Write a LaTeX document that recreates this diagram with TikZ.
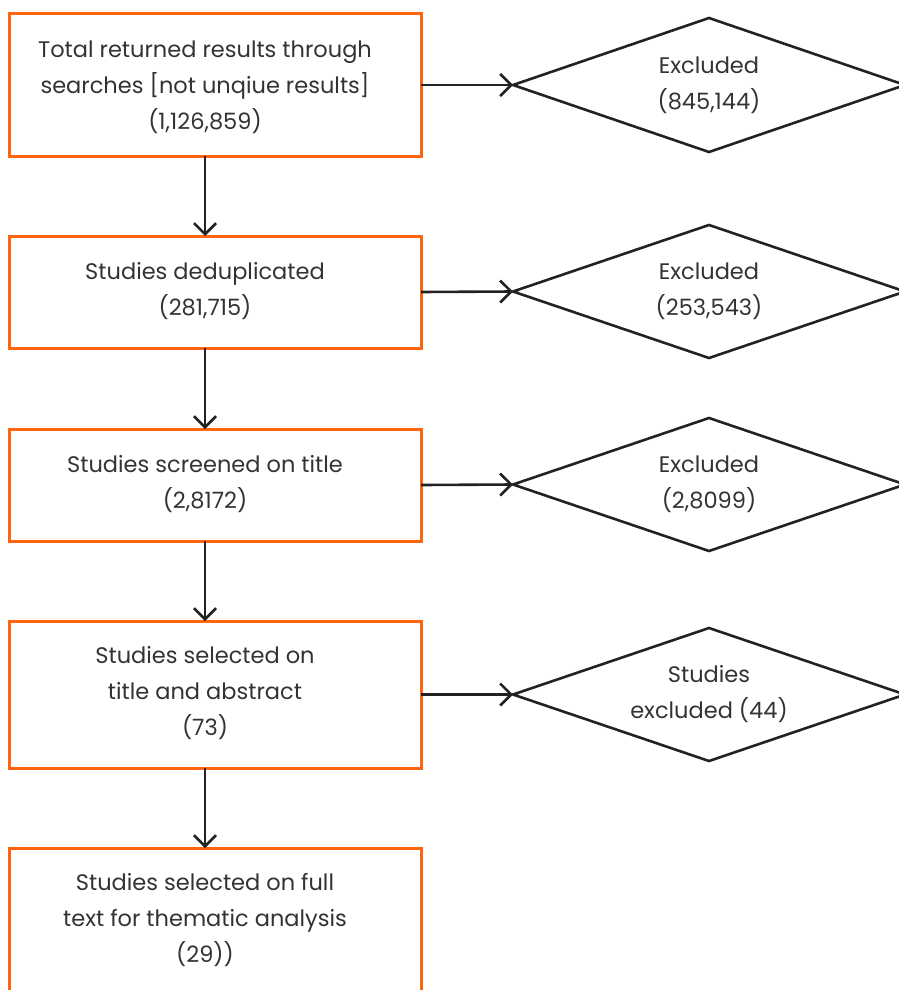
\documentclass[tikz,border=0pt]{standalone}
\usepackage{fontspec}
\setmainfont{Poppins}
\usetikzlibrary{shapes.geometric,arrows.meta}
\definecolor{boxorange}{HTML}{FF6410}
\definecolor{linedark}{HTML}{222222}
\definecolor{textdark}{HTML}{333333}
\begin{document}
\begin{tikzpicture}[x=1pt,y=1pt,
  stagebox/.style={draw=boxorange,line width=3pt,minimum width=412pt,inner sep=0pt,outer sep=0pt},
  lbl/.style={text=textdark,align=center,font=\fontsize{22.5}{36}\selectfont,inner sep=0pt},
  exclbox/.style={diamond,aspect=2.93,draw=linedark,line width=2.6pt,minimum width=392pt,minimum height=134pt,inner sep=0pt,outer sep=0pt,text=textdark,align=center,font=\fontsize{22.5}{36}\selectfont},
  arr/.style={draw=linedark,line width=2.6pt,-{Straight Barb[length=11pt,width=22pt,line width=2.6pt]}}
]
\useasboundingbox (0,0) rectangle (899,-990);
\clip (0,0) rectangle (899,-990);
% boxes
\node[stagebox,minimum height=142pt] (b1) at (215,-85) {};
\node[stagebox,minimum height=112pt] (b2) at (215,-292) {};
\node[stagebox,minimum height=112pt] (b3) at (215,-485) {};
\node[stagebox,minimum height=147pt] (b4) at (215,-694.5) {};
\node[stagebox,minimum height=152pt] (b5) at (215,-924) {};
% texts
\node[lbl] (t1) at (205,-87) {Total returned results through\\searches [not unqiue results]\\(1,126,859)};
\node[lbl] (t2) at (205,-291) {Studies deduplicated\\(281,715)};
\node[lbl] (t3) at (205,-484) {Studies screened on title\\(2,8172)};
\node[lbl] (t4) at (205,-693) {Studies selected on\\title and abstract\\(73)};
\node[lbl] (t5) at (205,-920) {Studies selected on full\\text for thematic analysis\\(29))};
% diamonds
\node[exclbox] (d1) at (709,-85) {Excluded\\(845,144)};
\node[exclbox,minimum height=133pt] (d2) at (709,-291.5) {Excluded\\(253,543)};
\node[exclbox,minimum height=133pt] (d3) at (709,-484.5) {Excluded\\(2,8099)};
\node[exclbox,minimum height=133pt] (d4) at (709,-694.5) {Studies\\excluded (44)};
% connectors
\draw[arr] (b1.south -| t1) -- (b2.north -| t1);
\draw[arr] (b2.south -| t2) -- (b3.north -| t2);
\draw[arr] (b3.south -| t3) -- (b4.north -| t3);
\draw[arr] (b4.south -| t4) -- (b5.north -| t4);
\draw[arr] (b1.east) -- (d1.west);
\draw[arr] (b2.east) -- (d2.west);
\draw[arr] (b3.east) -- (d3.west);
\draw[arr] (b4.east) -- (d4.west);
\end{tikzpicture}
\end{document}
